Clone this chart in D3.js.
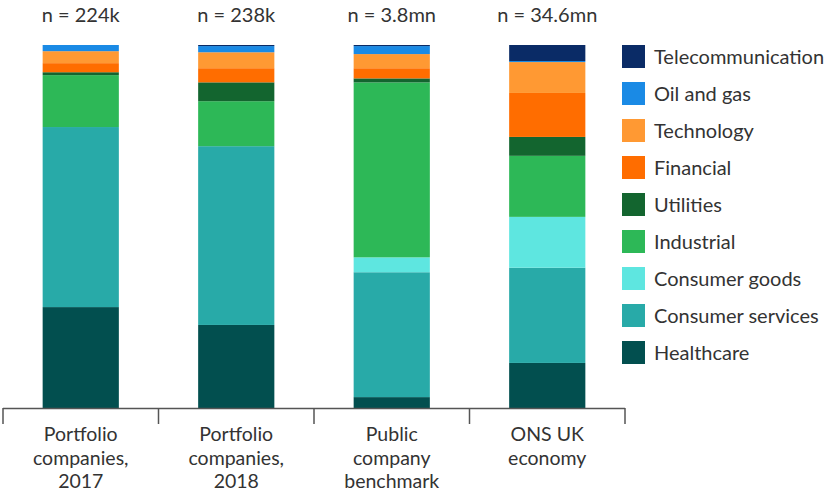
<!DOCTYPE html>
<html><head><meta charset="utf-8">
<script src="https://cdn.jsdelivr.net/npm/d3@7"></script>
<style>body{margin:0;background:#fff}svg{display:block}text{font-family:Lato,sans-serif;fill:#333}</style>
</head><body><svg id="c" width="835" height="492"></svg>
<script>
const categories = [["Portfolio","companies,","2017"],["Portfolio","companies,","2018"],["Public","company","benchmark"],["ONS UK","economy"]];
const counts = ["n = 224k","n = 238k","n = 3.8mn","n = 34.6mn"];
const sectors = ["Healthcare","Consumer services","Consumer goods","Industrial","Utilities","Financial","Technology","Oil and gas","Telecommunication"];
const colors = ["#024f4f","#28aaa8","#5ee6e0","#2db857","#13652f","#ff6d00","#ff9933","#1a8ae5","#0a2b66"];
const healthcare = [27.8,22.9,3.0,12.4];
const consumerServices = [49.6,49.3,34.4,26.2];
const consumerGoods = [0,0,4.1,14.0];
const industrial = [14.3,12.4,48.2,16.8];
const utilities = [0.8,5.2,1.1,5.2];
const financial = [2.5,3.9,2.8,12.1];
const technology = [3.3,4.4,3.9,8.5];
const oilGas = [1.7,1.7,2.2,0.3];
const telecom = [0,0.3,0.3,4.4];
const seriesVals = [healthcare,consumerServices,consumerGoods,industrial,utilities,financial,technology,oilGas,telecom];

const svg = d3.select("#c");
const rows = categories.map((c,i)=>{const o={cat:i};sectors.forEach((s,j)=>o[s]=seriesVals[j][i]);return o;});
const stack = d3.stack().keys(sectors).offset(d3.stackOffsetExpand)(rows);
const x = d3.scaleBand().domain(d3.range(categories.length)).range([3,625]).paddingInner(0.51).paddingOuter(0.255);
const y = d3.scaleLinear().domain([0,1]).range([408,45]);
const color = d3.scaleOrdinal().domain(sectors).range(colors);

svg.append("g").selectAll("g").data(stack).join("g").attr("fill",d=>color(d.key))
 .selectAll("rect").data(d=>d).join("rect")
 .attr("x",(d,i)=>x(i)).attr("width",x.bandwidth())
 .attr("y",d=>y(d[1])).attr("height",d=>y(d[0])-y(d[1]));

// axis
const xa = d3.scaleBand().domain(d3.range(categories.length)).range([3,625]);
const ag = svg.append("g");
ag.append("line").attr("x1",3).attr("x2",625).attr("y1",408.5).attr("y2",408.5).attr("stroke","#555").attr("stroke-width",1.5);
ag.selectAll("line.t").data(d3.range(categories.length+1)).join("line").attr("class","t")
 .attr("x1",i=>3+i*xa.step()).attr("x2",i=>3+i*xa.step()).attr("y1",408).attr("y2",424).attr("stroke","#555").attr("stroke-width",1.5);
categories.forEach((lines,i)=>{
  const t = ag.append("text").attr("text-anchor","middle").attr("font-size",19.5);
  lines.forEach((l,k)=>t.append("tspan").attr("x",xa(i)+xa.bandwidth()/2).attr("y",441+k*23.5).text(l));
});
svg.selectAll("text.n").data(counts).join("text").attr("class","n")
 .attr("x",(d,i)=>x(i)+x.bandwidth()/2).attr("y",22).attr("text-anchor","middle").attr("font-size",20).text(d=>d);

// legend
const legendOrder = sectors.slice().reverse();
const lg = svg.append("g").selectAll("g").data(legendOrder).join("g").attr("transform",(d,i)=>`translate(622,${45+i*37})`);
lg.append("rect").attr("width",23).attr("height",23).attr("fill",d=>color(d));
lg.append("text").attr("x",32).attr("y",18.5).attr("font-size",20).text(d=>d);
</script></body></html>
